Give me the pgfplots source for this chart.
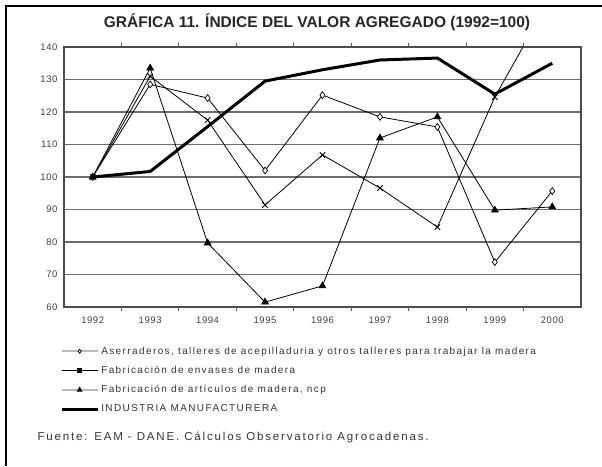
\documentclass[border=0pt]{standalone}
\usepackage{fontspec}
\setmainfont{Liberation Sans}
\newfontfamily\spf[LetterSpace=6]{Liberation Sans}
\newfontfamily\spl[LetterSpace=14]{Liberation Sans}
\newfontfamily\spg[LetterSpace=16]{Liberation Sans}
\usepackage{pgfplots}
\pgfplotsset{compat=1.18}
\begin{document}
\begin{tikzpicture}
\path[use as bounding box] (0pt,0pt) rectangle (602pt,-466pt);
\draw[line width=1.5pt] (6pt,-466pt) -- (6pt,-6pt) -- (602pt,-6pt);
\node[font=\bfseries\fontsize{15.5}{18}\selectfont, text=black!85] at (317pt,-22pt) {GRÁFICA 11. ÍNDICE DEL VALOR AGREGADO (1992=100)};
\node[anchor=west,font=\spg\fontsize{11.5}{13}\selectfont,text=black!80] at (34pt,-437pt) {Fuente: EAM - DANE. Cálculos Observatorio Agrocadenas.};
\begin{axis}[
  at={(64pt,-307pt)}, anchor=south west,
  scale only axis, width=517pt, height=260pt,
  xmin=-0.5, xmax=8.5, ymin=60, ymax=140,
  xtick={0,...,8},
  xticklabels={1992,1993,1994,1995,1996,1997,1998,1999,2000},
  minor xtick={0.5,1.5,...,7.5},
  ytick={60,70,...,140},
  major tick length=0pt,
  minor tick length=4pt,
  tick align=outside,
  minor tick style={gray!70!black, line width=0.8pt},
  ymajorgrids,
  grid style={gray!85!black, line width=1.1pt},
  axis line style={gray!60!black, line width=1.1pt},
  /pgf/number format/assume math mode=true,
  ticklabel style={font=\spf\fontsize{9.5}{11}\selectfont, text=black!75},
  xticklabel style={yshift=-6pt},
  yticklabel style={xshift=-3pt},
  legend style={at={(axis description cs:-0.008,-0.145)}, anchor=north west,
    draw=none, fill=none, font=\spl\fontsize{10}{12}\selectfont, text=black!80,
    row sep=6.5pt, cells={anchor=west}, inner sep=0pt},
  legend cell align=left,
]
\addplot[black, line width=0.8pt, mark=diamond*, mark size=3.4pt, mark options={fill=white, line width=0.7pt},
  legend image code/.code={\draw[gray!55,line width=2pt] (0pt,0pt) -- (36pt,0pt);
    \draw[black,fill=black] plot[mark=diamond*,mark size=2pt] coordinates {(18pt,0pt)};}]
  coordinates {(0,100) (1,128.5) (2,124.3) (3,102) (4,125.2) (5,118.5) (6,115.4) (7,73.8) (8,95.7)};
\addlegendentry{Aserraderos, talleres de acepilladuria y otros talleres para trabajar la madera}
\addplot[black, line width=0.8pt, mark=x, mark size=3.8pt, mark options={line width=0.9pt},
  legend image code/.code={\draw[black,line width=1pt] (0pt,0pt) -- (36pt,0pt);
    \draw[black,fill=black] plot[mark=square*,mark size=1.8pt] coordinates {(18pt,0pt)};}]
  coordinates {(0,100) (1,131) (2,117.5) (3,91.4) (4,106.8) (5,96.6) (6,84.6) (7,124.6) (8,156)};
\addlegendentry{Fabricación de envases de madera}
\addplot[black, line width=0.8pt, mark=triangle*, mark size=3.8pt,
  legend image code/.code={\draw[gray!55,line width=2pt] (0pt,0pt) -- (36pt,0pt);
    \draw[black,fill=black] plot[mark=triangle*,mark size=2.6pt] coordinates {(18pt,0pt)};}]
  coordinates {(0,100) (1,133.5) (2,79.7) (3,61.5) (4,66.5) (5,112) (6,118.5) (7,89.8) (8,90.8)};
\addlegendentry{Fabricación de artículos de madera, ncp}
\addplot[black, line width=3pt, mark=none,
  legend image code/.code={\draw[black,line width=3.2pt] (0pt,0pt) -- (36pt,0pt);}]
  coordinates {(0,100) (1,101.7) (2,115.5) (3,129.5) (4,133) (5,136) (6,136.6) (7,125.5) (8,135)};
\addlegendentry{INDUSTRIA MANUFACTURERA}
\end{axis}
\end{tikzpicture}
\end{document}
